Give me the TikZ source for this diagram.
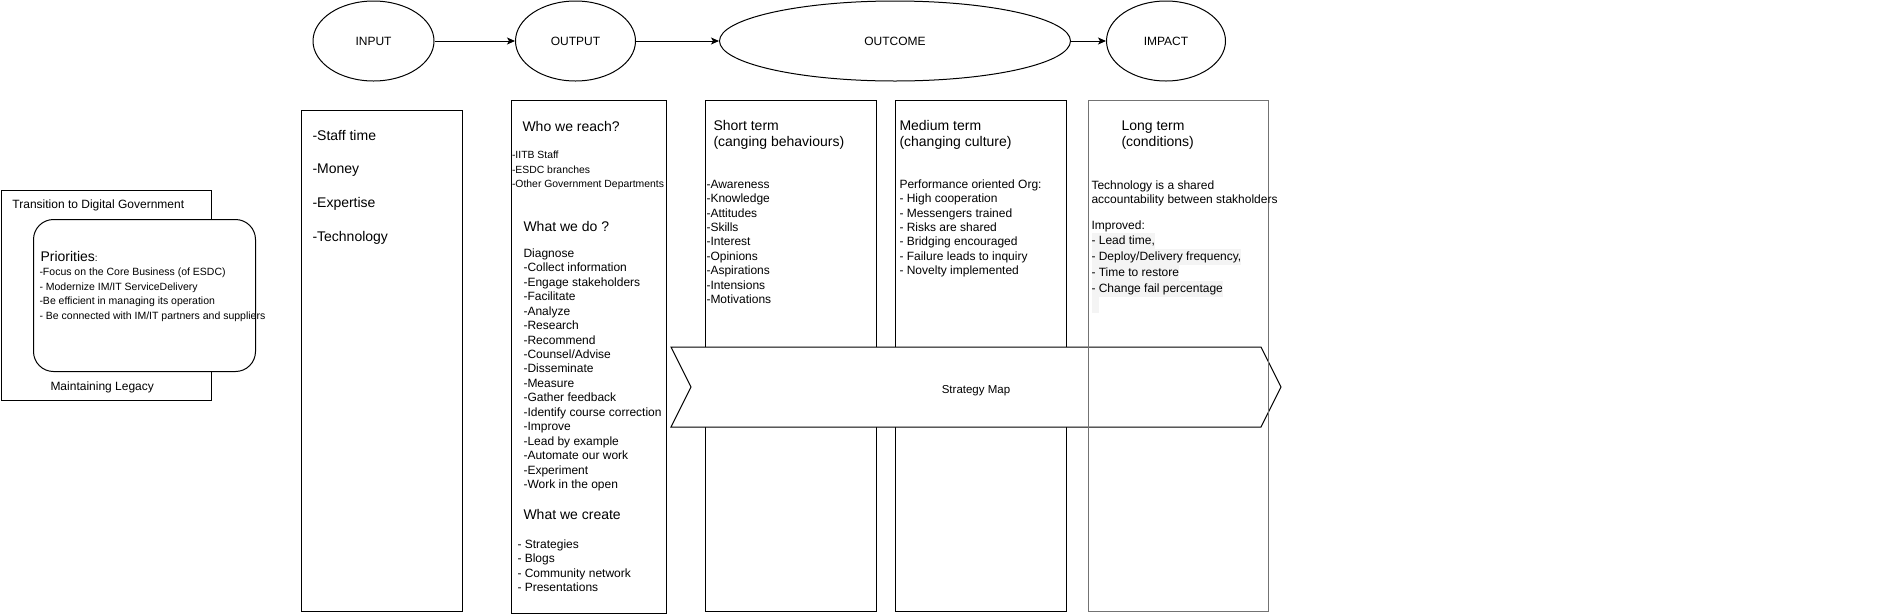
\documentclass[tikz,border=0pt]{standalone}
\usepackage{fontspec}
\setmainfont{Liberation Sans}
\usetikzlibrary{arrows.meta,shapes.geometric}
\newcommand\fsz[1]{\fontsize{#1}{#1}\selectfont}
\definecolor{hl}{gray}{0.955}
\definecolor{edgegray}{gray}{0.45}
\begin{document}
\begin{tikzpicture}[x=1pt,y=-1pt,line width=1pt,
  box/.style={draw,fill=white,inner sep=0,anchor=north west},
  ell/.style={draw,ellipse,inner sep=0,minimum height=80pt,font=\fsz{12}},
  arr/.style={-{Stealth[length=8pt,width=7pt,inset=2pt]}},
  txt/.style={anchor=base west,inner sep=0},
  t10/.style={txt,font=\fsz{10.4}},
  t12/.style={txt,font=\fsz{12}},
  t14/.style={txt,font=\fsz{14}},
  hlt/.style={anchor=west,inner xsep=0,inner ysep=0,fill=hl,text height=11.5pt,text depth=4pt,font=\fsz{12}}]
\useasboundingbox (0,0) rectangle (1891,614);

% top ellipses
\node[ell,minimum width=121pt] (in)  at (373.5,41) {INPUT};
\node[ell,minimum width=120pt] (out) at (575.5,41) {OUTPUT};
\node[ell,minimum width=351pt] (oc)  at (895,41) {OUTCOME};
\node[ell,minimum width=119pt] (im)  at (1166,41) {IMPACT};
\draw[arr] (in) -- (out);
\draw[arr] (out) -- (oc);
\draw[arr] (oc) -- (im);

% left group
\node[box,minimum width=210.5pt,minimum height=210pt] (legacy) at (0.5,190) {};
\node[box,rounded corners=20pt,minimum width=222pt,minimum height=152pt] (prio) at (33,219) {};
\node[t12] (tdg) at (12,208.3) {Transition to Digital Government};
\node[t12] (ml) at (50,390) {Maintaining Legacy};
\node[txt] (pt) at (40,261) {{\fsz{14}Priorities}{\fsz{10}:}};
\foreach \t [count=\i from 0] in {-Focus on the Core Business (of ESDC),- Modernize IM/IT ServiceDelivery,-Be efficient in managing its operation,- Be connected with IM/IT partners and suppliers}
  \node[txt,font=\fsz{10.5}] (pr\i) at (39,{275.7+\i*14.6}) {\t};

% column boxes
\node[box,minimum width=161pt,minimum height=501pt] (inbox) at (301,110) {};
\node[box,minimum width=155pt,minimum height=513pt] (outbox) at (511,100) {};
\node[box,minimum width=171pt,minimum height=511pt] (stbox) at (705,100) {};
\node[box,minimum width=171pt,minimum height=511pt] (mtbox) at (895,100) {};

% strategy map chevron
\draw[fill=white] (671,347) -- (1261,347) -- (1281,387) -- (1261,427) -- (671,427) -- (691,387) -- cycle;
\node[font=\fsz{11.5},inner sep=0,anchor=base] (sm) at (976,393) {Strategy Map};

% long term box (outline only, drawn on top)
\node[draw=edgegray,inner sep=0,anchor=north west,minimum width=180pt,minimum height=511pt] (ltbox) at (1088,100) {};

% input texts
\foreach \t [count=\i from 0] in {-Staff time,-Money,-Expertise,-Technology}
  \node[t14] (ip\i) at (312,{140+\i*33.7}) {\t};

% output texts
\node[t14] (who) at (522,131) {Who we reach?};
\foreach \t [count=\i from 0] in {-IITB Staff,-ESDC branches,-Other Government Departments}
  \node[t10] (wr\i) at (511.5,{158.7+\i*14.5}) {\t};
\node[t14] (wdo) at (523,231) {What we do ?};
\foreach \t [count=\i from 0] in {Diagnose,-Collect information,-Engage stakeholders,-Facilitate,-Analyze,-Research,-Recommend,-Counsel/Advise,-Disseminate,-Measure,-Gather feedback,-Identify course correction,-Improve,-Lead by example,-Automate our work,-Experiment,-Work in the open}
  \node[t12] (do\i) at (523,{257.3+\i*14.46}) {\t};
\node[t14] (wc) at (523,519) {What we create};
\foreach \t [count=\i from 0] in {- Strategies,- Blogs,- Community network,- Presentations}
  \node[t12] (cr\i) at (517,{548+\i*14.5}) {\t};

% short term
\node[t14] (st1) at (713,130) {Short term};
\node[t14] (st2) at (713,146) {(canging behaviours)};
\foreach \t [count=\i from 0] in {-Awareness,-Knowledge,-Attitudes,-Skills,-Interest,-Opinions,-Aspirations,-Intensions,-Motivations}
  \node[t12] (sti\i) at (706,{188.3+\i*14.4}) {\t};

% medium term
\node[t14] (mt1) at (899,130) {Medium term};
\node[t14] (mt2) at (899,146) {(changing culture)};
\foreach \t [count=\i from 0] in {Performance oriented Org:,- High cooperation,- Messengers trained,- Risks are shared,- Bridging encouraged,- Failure leads to inquiry,- Novelty implemented}
  \node[t12] (mti\i) at (899,{188.3+\i*14.4}) {\t};

% long term
\node[t14] (lt1) at (1121,130) {Long term};
\node[t14] (lt2) at (1121,146) {(conditions)};
\node[t12] (lt3) at (1091,189.3) {Technology is a shared};
\node[t12] (lt4) at (1091,203.3) {accountability between stakholders};
\node[t12] (lt5) at (1091,229.3) {Improved:};
\foreach \t [count=\i from 0] in {{- Lead time,\hspace{4pt}},{- Deploy/Delivery frequency,\hspace{8pt}},{- Time to restore},{- Change fail percentage}}
  \node[hlt] (lti\i) at (1091,{241+\i*16}) {\t};
\node[hlt,minimum width=7pt] (ltx) at (1091,305) {};
\end{tikzpicture}
\end{document}
